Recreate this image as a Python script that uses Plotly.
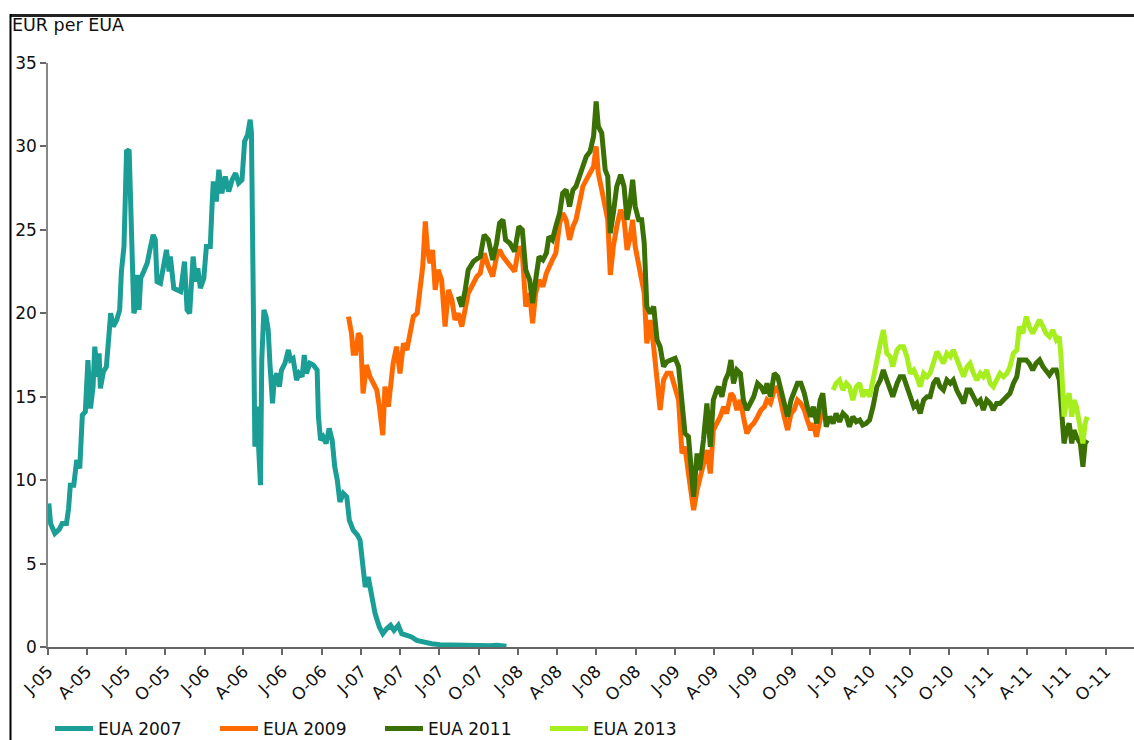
import plotly.graph_objects as go

# ---------------- data ----------------
eua2007_dates = [
    "2005-01-03", "2005-01-07", "2005-01-17", "2005-01-27", "2005-02-03", "2005-02-13", "2005-02-18",
    "2005-02-22", "2005-03-02", "2005-03-09", "2005-03-16", "2005-03-22", "2005-03-29", "2005-04-04",
    "2005-04-10", "2005-04-16", "2005-04-20", "2005-04-26", "2005-04-30", "2005-05-03", "2005-05-10",
    "2005-05-17", "2005-05-23", "2005-05-27", "2005-06-02", "2005-06-10", "2005-06-17", "2005-06-21",
    "2005-06-27", "2005-07-03", "2005-07-09", "2005-07-12", "2005-07-16", "2005-07-20", "2005-07-24",
    "2005-07-28", "2005-08-01", "2005-08-05", "2005-08-12", "2005-08-20", "2005-08-28", "2005-09-03",
    "2005-09-08", "2005-09-12", "2005-09-20", "2005-09-28", "2005-10-04", "2005-10-10", "2005-10-13",
    "2005-10-21", "2005-10-29", "2005-11-06", "2005-11-15", "2005-11-21", "2005-11-27", "2005-12-05",
    "2005-12-11", "2005-12-16", "2005-12-22", "2005-12-30", "2006-01-05", "2006-01-14", "2006-01-18",
    "2006-01-21", "2006-01-28", "2006-02-03", "2006-02-10", "2006-02-18", "2006-02-26", "2006-03-06",
    "2006-03-14", "2006-03-21", "2006-03-29", "2006-04-04", "2006-04-11", "2006-04-17", "2006-04-20",
    "2006-04-24", "2006-04-26", "2006-04-28", "2006-05-02", "2006-05-06", "2006-05-11", "2006-05-14",
    "2006-05-19", "2006-05-24", "2006-05-29", "2006-06-02", "2006-06-08", "2006-06-12", "2006-06-18",
    "2006-06-24", "2006-06-29", "2006-07-07", "2006-07-15", "2006-07-20", "2006-07-26", "2006-08-03",
    "2006-08-09", "2006-08-16", "2006-08-21", "2006-08-26", "2006-09-03", "2006-09-11", "2006-09-20",
    "2006-09-23", "2006-09-28", "2006-10-04", "2006-10-11", "2006-10-18", "2006-10-25", "2006-10-31",
    "2006-11-06", "2006-11-12", "2006-11-20", "2006-11-28", "2006-12-04", "2006-12-13", "2006-12-23",
    "2006-12-29", "2007-01-04", "2007-01-10", "2007-01-17", "2007-01-25", "2007-02-02", "2007-02-12",
    "2007-02-20", "2007-03-01", "2007-03-10", "2007-03-18", "2007-03-28", "2007-04-05", "2007-04-17",
    "2007-04-28", "2007-05-10", "2007-05-25", "2007-06-14", "2007-07-03", "2007-08-11", "2007-09-19",
    "2007-10-28", "2007-11-12", "2007-12-05",
]
eua2007_values = [
    8.6, 7.4, 6.8, 7.05, 7.4, 7.4, 8.3,
    9.7, 9.7, 11.2, 10.7, 13.9, 14.1, 17.2,
    14.3, 15.6, 18.0, 16.2, 17.6, 15.5, 16.5,
    16.8, 18.7, 20.0, 19.2, 19.6, 20.2, 22.5,
    24.0, 29.7, 29.8, 26.5, 24.6, 20.0, 20.4,
    22.3, 20.2, 22.1, 22.5, 23.0, 24.0, 24.7,
    24.4, 21.9, 21.8, 23.0, 23.8, 22.5, 23.4,
    21.5, 21.4, 21.3, 23.1, 20.2, 20.0, 23.4,
    21.9, 22.7, 21.5, 22.1, 24.0, 24.0, 26.3,
    27.9, 26.7, 28.6, 27.2, 28.2, 27.3, 28.0,
    28.4, 27.8, 28.0, 30.3, 30.7, 31.6, 30.8,
    22.0, 16.2, 12.0, 14.4, 11.8, 9.7, 17.2,
    20.2, 19.8, 19.0, 17.0, 14.6, 16.0, 16.4,
    15.6, 16.6, 17.0, 17.8, 17.2, 17.3, 16.0,
    16.4, 16.2, 17.5, 16.4, 17.0, 16.9, 16.6,
    13.8, 12.4, 12.6, 12.2, 13.1, 12.4, 10.8,
    10.0, 8.7, 9.2, 9.0, 7.6, 7.0, 6.7,
    6.4, 4.8, 3.6, 4.2, 3.2, 2.0, 1.2,
    0.8, 1.1, 1.3, 1.0, 1.3, 0.8, 0.7,
    0.6, 0.4, 0.3, 0.2, 0.14, 0.1, 0.08,
    0.08, 0.1, 0.04,
]

eua2009_dates = [
    "2006-12-02", "2006-12-09", "2006-12-13", "2006-12-19", "2006-12-25", "2006-12-30", "2007-01-05",
    "2007-01-13", "2007-01-21", "2007-01-29", "2007-02-06", "2007-02-12", "2007-02-20", "2007-02-25",
    "2007-03-05", "2007-03-16", "2007-03-24", "2007-04-01", "2007-04-09", "2007-04-17", "2007-04-24",
    "2007-05-02", "2007-05-11", "2007-05-18", "2007-05-24", "2007-05-30", "2007-06-04", "2007-06-10",
    "2007-06-16", "2007-06-22", "2007-06-29", "2007-07-07", "2007-07-15", "2007-07-23", "2007-07-31",
    "2007-08-07", "2007-08-15", "2007-08-23", "2007-08-31", "2007-09-07", "2007-09-19", "2007-09-27",
    "2007-10-05", "2007-10-14", "2007-10-24", "2007-11-03", "2007-11-12", "2007-11-19", "2007-11-27",
    "2007-12-03", "2007-12-13", "2007-12-24", "2008-01-03", "2008-01-11", "2008-01-19", "2008-01-28",
    "2008-02-04", "2008-02-11", "2008-02-19", "2008-02-28", "2008-03-07", "2008-03-13", "2008-03-21",
    "2008-03-29", "2008-04-07", "2008-04-14", "2008-04-22", "2008-04-30", "2008-05-08", "2008-05-15",
    "2008-05-23", "2008-05-31", "2008-06-08", "2008-06-17", "2008-06-25", "2008-07-01", "2008-07-06",
    "2008-07-14", "2008-07-22", "2008-07-28", "2008-08-03", "2008-08-10", "2008-08-18", "2008-08-27",
    "2008-09-04", "2008-09-11", "2008-09-17", "2008-09-24", "2008-09-30", "2008-10-08", "2008-10-15",
    "2008-10-21", "2008-10-27", "2008-11-04", "2008-11-12", "2008-11-20", "2008-11-27", "2008-12-05",
    "2008-12-13", "2008-12-22", "2009-01-01", "2009-01-09", "2009-01-17", "2009-01-24", "2009-02-01",
    "2009-02-07", "2009-02-13", "2009-02-21", "2009-02-27", "2009-03-08", "2009-03-16", "2009-03-24",
    "2009-03-31", "2009-04-08", "2009-04-16", "2009-04-24", "2009-05-01", "2009-05-11", "2009-05-17",
    "2009-05-25", "2009-06-02", "2009-06-09", "2009-06-17", "2009-06-25", "2009-07-03", "2009-07-12",
    "2009-07-20", "2009-07-28", "2009-08-03", "2009-08-11", "2009-08-20", "2009-08-28", "2009-09-04",
    "2009-09-12", "2009-09-20", "2009-09-28", "2009-10-05", "2009-10-13", "2009-10-21", "2009-10-29",
    "2009-11-05", "2009-11-13", "2009-11-19", "2009-11-26", "2009-12-03", "2009-12-11", "2009-12-14",
]
eua2009_values = [
    19.8, 18.8, 17.6, 17.6, 18.8, 18.6, 15.2,
    16.9, 16.2, 15.8, 15.4, 14.4, 12.7, 15.6,
    14.4, 17.0, 18.0, 16.4, 18.2, 17.8, 18.8,
    19.8, 20.0, 21.8, 22.8, 25.5, 23.8, 23.0,
    23.8, 21.4, 22.6, 22.0, 19.2, 21.4, 20.8,
    19.6, 20.0, 19.2, 20.4, 21.2, 21.8, 22.2,
    22.4, 23.6, 22.8, 22.2, 23.4, 23.8, 23.4,
    23.2, 22.8, 22.5, 24.0, 23.6, 20.4, 21.2,
    19.4, 21.2, 22.0, 21.6, 22.4, 22.8, 23.2,
    23.6, 25.4, 26.0, 25.6, 24.4, 25.2, 25.6,
    26.6, 27.6, 28.0, 28.4, 28.8, 30.0, 28.4,
    27.4, 26.4, 25.6, 22.3, 24.0, 25.2, 26.2,
    25.6, 23.8, 24.4, 25.6, 24.0, 22.8, 22.0,
    21.2, 18.2, 19.6, 18.0, 15.6, 14.2, 16.0,
    16.4, 16.4, 15.6, 14.8, 11.6, 12.0, 10.4,
    9.4, 8.2, 9.4, 10.0, 11.0, 11.8, 10.4,
    13.0, 13.4, 13.8, 14.4, 14.0, 15.2, 15.0,
    14.2, 14.8, 13.8, 12.8, 13.2, 13.4, 13.8,
    14.2, 14.4, 14.8, 14.6, 15.4, 15.6, 14.6,
    13.8, 13.0, 14.0, 14.2, 14.8, 14.6, 14.2,
    13.6, 13.0, 13.4, 12.6, 13.4, 14.4, 13.8,
]

eua2011_dates = [
    "2007-08-15", "2007-08-23", "2007-08-31", "2007-09-07", "2007-09-19", "2007-09-27", "2007-10-05",
    "2007-10-14", "2007-10-24", "2007-11-03", "2007-11-12", "2007-11-19", "2007-11-27", "2007-12-03",
    "2007-12-13", "2007-12-24", "2008-01-03", "2008-01-11", "2008-01-19", "2008-01-28", "2008-02-04",
    "2008-02-11", "2008-02-19", "2008-02-28", "2008-03-07", "2008-03-13", "2008-03-21", "2008-03-29",
    "2008-04-07", "2008-04-14", "2008-04-22", "2008-04-30", "2008-05-08", "2008-05-15", "2008-05-23",
    "2008-05-31", "2008-06-08", "2008-06-17", "2008-06-25", "2008-07-01", "2008-07-06", "2008-07-14",
    "2008-07-22", "2008-07-28", "2008-08-03", "2008-08-10", "2008-08-18", "2008-08-27", "2008-09-04",
    "2008-09-11", "2008-09-17", "2008-09-24", "2008-09-30", "2008-10-08", "2008-10-15", "2008-10-21",
    "2008-10-27", "2008-11-04", "2008-11-12", "2008-11-20", "2008-11-27", "2008-12-05", "2008-12-13",
    "2008-12-22", "2009-01-01", "2009-01-09", "2009-01-17", "2009-01-24", "2009-02-01", "2009-02-07",
    "2009-02-13", "2009-02-21", "2009-02-27", "2009-03-08", "2009-03-16", "2009-03-24", "2009-03-31",
    "2009-04-08", "2009-04-12", "2009-04-20", "2009-04-28", "2009-05-05", "2009-05-11", "2009-05-17",
    "2009-05-25", "2009-06-02", "2009-06-09", "2009-06-17", "2009-06-25", "2009-07-03", "2009-07-12",
    "2009-07-20", "2009-07-28", "2009-08-03", "2009-08-11", "2009-08-20", "2009-08-28", "2009-09-04",
    "2009-09-12", "2009-09-20", "2009-09-28", "2009-10-05", "2009-10-13", "2009-10-21", "2009-10-29",
    "2009-11-05", "2009-11-13", "2009-11-19", "2009-11-27", "2009-12-05", "2009-12-11", "2009-12-19",
    "2009-12-27", "2010-01-04", "2010-01-11", "2010-01-19", "2010-01-27", "2010-02-04", "2010-02-11",
    "2010-02-19", "2010-02-27", "2010-03-07", "2010-03-14", "2010-03-22", "2010-03-30", "2010-04-07",
    "2010-04-16", "2010-04-24", "2010-05-01", "2010-05-09", "2010-05-17", "2010-05-23", "2010-06-02",
    "2010-06-09", "2010-06-17", "2010-06-25", "2010-07-03", "2010-07-11", "2010-07-18", "2010-07-26",
    "2010-08-03", "2010-08-11", "2010-08-18", "2010-08-26", "2010-09-03", "2010-09-10", "2010-09-18",
    "2010-09-26", "2010-10-04", "2010-10-11", "2010-10-19", "2010-10-27", "2010-11-04", "2010-11-12",
    "2010-11-19", "2010-11-27", "2010-12-05", "2010-12-13", "2010-12-20", "2010-12-28", "2011-01-05",
    "2011-01-12", "2011-01-20", "2011-01-28", "2011-02-05", "2011-02-13", "2011-02-20", "2011-02-28",
    "2011-03-08", "2011-03-14", "2011-03-22", "2011-03-30", "2011-04-06", "2011-04-14", "2011-04-22",
    "2011-04-30", "2011-05-08", "2011-05-15", "2011-05-23", "2011-05-31", "2011-06-08", "2011-06-15",
    "2011-06-19", "2011-06-23", "2011-06-26", "2011-07-02", "2011-07-08", "2011-07-14", "2011-07-19",
    "2011-07-25", "2011-08-03", "2011-08-09", "2011-08-14", "2011-08-19",
]
eua2011_values = [
    21.0, 20.4, 21.4, 22.6, 23.1, 23.3, 23.4,
    24.7, 24.4, 23.2, 24.2, 25.4, 25.6, 24.4,
    24.2, 23.7, 25.2, 25.0, 22.6, 22.0, 20.6,
    22.0, 23.4, 23.2, 23.6, 24.6, 24.4, 25.2,
    26.0, 27.2, 27.4, 26.4, 27.4, 27.6, 28.2,
    28.6, 29.4, 29.7, 30.6, 32.7, 31.2, 30.8,
    28.6, 28.2, 24.8, 26.0, 27.6, 28.3, 27.6,
    25.6, 26.4, 28.0, 26.4, 25.6, 25.6, 24.2,
    20.4, 20.0, 20.4, 18.4, 18.0, 16.8, 17.1,
    17.2, 17.3, 16.8, 14.8, 12.8, 12.6, 11.0,
    9.0, 11.6, 10.6, 12.4, 14.6, 12.0, 14.8,
    15.4, 15.6, 15.0, 16.0, 16.4, 17.2, 15.8,
    16.6, 16.4, 14.8, 14.2, 14.6, 15.0, 15.8,
    15.6, 15.2, 15.8, 15.0, 16.4, 16.2, 15.4,
    14.6, 13.8, 14.8, 15.2, 15.8, 15.8, 15.2,
    14.4, 13.8, 14.4, 13.4, 14.8, 15.2, 13.2,
    13.8, 13.4, 14.0, 13.5, 14.0, 13.8, 13.2,
    13.8, 13.5, 13.6, 13.3, 13.4, 13.6, 14.4,
    15.6, 16.0, 16.6, 16.0, 15.4, 15.0, 15.8,
    16.2, 16.2, 15.6, 14.8, 14.4, 14.6, 14.0,
    14.8, 15.0, 15.0, 15.8, 16.1, 15.6, 15.4,
    16.0, 15.8, 16.0, 15.4, 15.0, 14.6, 15.4,
    15.4, 15.0, 14.6, 14.8, 14.2, 14.8, 14.6,
    14.2, 14.6, 14.6, 14.8, 15.0, 15.2, 15.8,
    16.2, 17.2, 17.2, 17.2, 17.0, 16.6, 17.0,
    17.2, 16.8, 16.6, 16.3, 16.6, 16.6, 16.0,
    14.8, 13.0, 12.2, 13.0, 13.4, 12.2, 13.0,
    12.6, 12.2, 10.8, 12.2, 12.4,
]

eua2013_dates = [
    "2010-01-04", "2010-01-11", "2010-01-19", "2010-01-27", "2010-02-04", "2010-02-11", "2010-02-19",
    "2010-02-27", "2010-03-07", "2010-03-14", "2010-03-22", "2010-03-30", "2010-04-07", "2010-04-16",
    "2010-04-24", "2010-05-01", "2010-05-09", "2010-05-17", "2010-05-23", "2010-06-02", "2010-06-09",
    "2010-06-17", "2010-06-25", "2010-07-03", "2010-07-11", "2010-07-18", "2010-07-26", "2010-08-03",
    "2010-08-11", "2010-08-18", "2010-08-26", "2010-09-03", "2010-09-10", "2010-09-18", "2010-09-26",
    "2010-10-04", "2010-10-11", "2010-10-19", "2010-10-27", "2010-11-04", "2010-11-12", "2010-11-19",
    "2010-11-27", "2010-12-05", "2010-12-13", "2010-12-20", "2010-12-28", "2011-01-05", "2011-01-12",
    "2011-01-20", "2011-01-28", "2011-02-05", "2011-02-13", "2011-02-20", "2011-02-28", "2011-03-08",
    "2011-03-14", "2011-03-22", "2011-03-30", "2011-04-06", "2011-04-14", "2011-04-22", "2011-04-30",
    "2011-05-08", "2011-05-15", "2011-05-23", "2011-05-31", "2011-06-08", "2011-06-15", "2011-06-19",
    "2011-06-23", "2011-06-26", "2011-07-02", "2011-07-08", "2011-07-14", "2011-07-19", "2011-07-25",
    "2011-08-03", "2011-08-09", "2011-08-14", "2011-08-19",
]
eua2013_values = [
    15.4, 15.8, 16.0, 15.4, 15.8, 15.6, 14.8,
    15.6, 15.8, 15.0, 15.4, 15.0, 16.0, 17.4,
    18.2, 19.0, 17.6, 17.4, 16.8, 17.8, 18.0,
    18.0, 17.4, 16.4, 16.6, 16.2, 15.6, 16.4,
    16.2, 16.4, 17.2, 17.7, 17.4, 17.0, 17.6,
    17.4, 17.8, 17.2, 16.6, 16.2, 16.8, 17.0,
    16.4, 16.0, 16.4, 16.2, 16.6, 15.8, 15.6,
    16.0, 16.4, 16.2, 16.4, 16.8, 17.6, 17.8,
    19.2, 18.8, 19.8, 19.2, 18.8, 19.2, 19.6,
    19.2, 18.8, 18.6, 19.0, 18.4, 18.6, 17.4,
    15.4, 13.8, 14.8, 15.2, 13.8, 14.8, 14.4,
    13.0, 12.2, 13.4, 13.8,
]

series_names = ["EUA 2007", "EUA 2009", "EUA 2011", "EUA 2013"]
series_colors = ["#1b9e96", "#ff6a00", "#3a7004", "#a6ee1e"]

tick_dates = [
    "2005-01-01", "2005-04-01", "2005-07-01", "2005-10-01",
    "2006-01-01", "2006-04-01", "2006-07-01", "2006-10-01",
    "2007-01-01", "2007-04-01", "2007-07-01", "2007-10-01",
    "2008-01-01", "2008-04-01", "2008-07-01", "2008-10-01",
    "2009-01-01", "2009-04-01", "2009-07-01", "2009-10-01",
    "2010-01-01", "2010-04-01", "2010-07-01", "2010-10-01",
    "2011-01-01", "2011-04-01", "2011-07-01", "2011-10-01",
]
tick_labels = [
    "J-05", "A-05", "J-05", "O-05", "J-06", "A-06", "J-06", "O-06",
    "J-07", "A-07", "J-07", "O-07", "J-08", "A-08", "J-08", "O-08",
    "J-09", "A-09", "J-09", "O-09", "J-10", "A-10", "J-10", "O-10",
    "J-11", "A-11", "J-11", "O-11",
]
y_ticks = [0, 5, 10, 15, 20, 25, 30, 35]
y_title = "EUR per EUA"

# ---------------- figure ----------------
FONT = "DejaVu Sans"
fig = go.Figure()
all_series = [
    (eua2007_dates, eua2007_values),
    (eua2009_dates, eua2009_values),
    (eua2011_dates, eua2011_values),
    (eua2013_dates, eua2013_values),
]
for (xs, ys), name, color in zip(all_series, series_names, series_colors):
    fig.add_trace(go.Scatter(
        x=xs, y=ys, name=name, mode="lines",
        line=dict(color=color, width=5, shape="linear"),
    ))

# figure is a little taller than the 740px window (legend sits at the bottom edge)
L, R, T, B = 48, 0, 63, 108
W, H = 1134, 755
pw, ph = W - L - R, H - T - B

def px_x(x):
    return (x - L) / pw

def px_y(y):
    return (H - B - y) / ph

fig.update_layout(
    width=W, height=H,
    margin=dict(l=L, r=R, t=T, b=B, autoexpand=False),
    paper_bgcolor="white", plot_bgcolor="white",
    font=dict(family=FONT, size=17, color="#111111"),
    showlegend=True,
    legend=dict(
        orientation="h", x=px_x(50), y=px_y(711), xanchor="left", yanchor="top",
        font=dict(family=FONT, size=17, color="#111111"),
        entrywidth=112, entrywidthmode="pixels",
        bgcolor="rgba(0,0,0,0)", itemwidth=38,
    ),
    xaxis=dict(
        type="date", range=["2005-01-01", "2011-12-06"],
        tickmode="array", tickvals=tick_dates, ticktext=tick_labels,
        tickangle=-45, ticks="outside", ticklen=6, tickcolor="#666666", tickwidth=1.5,
        showline=True, linecolor="#666666", linewidth=1.5,
        showgrid=False, zeroline=False, automargin=False,
        tickfont=dict(family=FONT, size=17, color="#111111"),
    ),
    yaxis=dict(
        range=[0, 35], tickmode="array", tickvals=y_ticks,
        ticks="outside", ticklen=6, tickcolor="#666666", tickwidth=1.5,
        showline=True, linecolor="#888888", linewidth=1.5,
        showgrid=False, zeroline=False, automargin=False,
        tickfont=dict(family=FONT, size=17, color="#111111"),
    ),
    annotations=[dict(
        text=y_title, xref="paper", yref="paper",
        x=px_x(10), y=px_y(25), xanchor="left", yanchor="middle",
        showarrow=False, font=dict(family=FONT, size=17.5, color="#111111"),
    )],
    shapes=[
        dict(type="line", xref="paper", yref="paper",
             x0=px_x(10), x1=px_x(1140), y0=px_y(15.5), y1=px_y(15.5),
             line=dict(color="#222222", width=3)),
        dict(type="line", xref="paper", yref="paper",
             x0=px_x(10.5), x1=px_x(10.5), y0=px_y(14), y1=px_y(760),
             line=dict(color="#000000", width=2)),
    ],
)

fig.write_html(
    "out.html",
    config={"displayModeBar": False},
    post_script="document.body.style.margin='0px';document.body.style.overflow='hidden';",
)
